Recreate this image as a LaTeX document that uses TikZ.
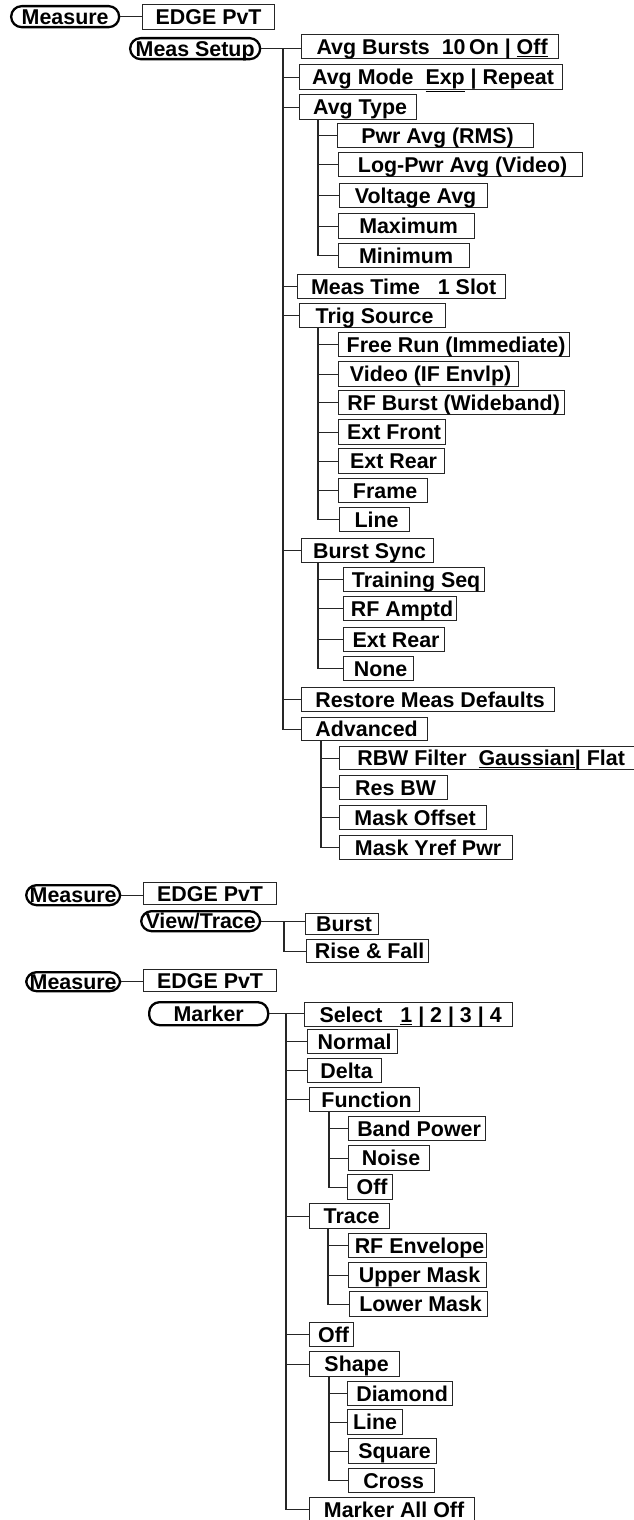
\documentclass[tikz,border=0pt]{standalone}
\usepackage{fontspec}
\setmainfont{Liberation Sans}
\begin{document}
\begin{tikzpicture}[x=1pt,y=-1pt,
  cell/.style args={#1/#2/#3/#4}{anchor=north west, at={(#1,#2)},
    minimum width={(#3)-(#1)}, minimum height={(#4)-(#2)}},
  mbox/.style={draw=black!85, line width=1.2pt, inner sep=0pt, rectangle,
    font=\fontsize{21.4}{24}\selectfont\bfseries, text height=15.6pt, text depth=0pt},
  mkey/.style={draw=black, line width=2.3pt, inner sep=0pt, rectangle, rounded corners=10.5pt,
    font=\fontsize{21.4}{24}\selectfont\bfseries, text height=15.6pt, text depth=0pt},
  conn/.style={draw=black!85, line width=1.2pt}]
\useasboundingbox[fill=white] (0,0) rectangle (633,1520);
% ---------- section 1 ----------
\node[mkey, cell=10/5/118/26] (m1) {Measure};
\node[mbox, cell=142/4/274/29] (e1) {EDGE PvT};
\node[mkey, cell=129/37/259/58] (ms) {Meas Setup};
\coordinate (T1) at (283,0);
\node[mbox, cell=301/34/558/58] (ab) {\hspace*{4pt}Avg Bursts\ \ 10\,On | \underline{Off}};
\node[mbox, cell=299/64/562/89] (am) {\hspace*{4pt}Avg Mode\ \ \underline{Exp} | Repeat};
\node[mbox, cell=299/94/416/119] (at) {\hspace*{4pt}Avg Type};
\coordinate (T2) at (318,0);
\node[mbox, cell=337/123/533/147] (pa) {\hspace*{4pt}Pwr Avg (RMS)};
\node[mbox, cell=338/152/582/176] (lp) {\hspace*{4pt}Log-Pwr Avg (Video)};
\node[mbox, cell=339/183/487/207] (va) {\hspace*{4pt}Voltage Avg};
\node[mbox, cell=338/213/474/238] (mx) {\hspace*{4pt}Maximum};
\node[mbox, cell=338/243/469/267] (mn) {\hspace*{4pt}Minimum};
\node[mbox, cell=297/274/505/298] (mt) {\hspace*{4pt}Meas Time\ \ \ 1 Slot};
\node[mbox, cell=299/303/445/327] (ts) {\hspace*{4pt}Trig Source};
\coordinate (T3) at (318,0);
\node[mbox, cell=338/332/569/356] (fr) {\hspace*{4pt}Free Run (Immediate)};
\node[mbox, cell=338/361/518/386] (vi) {\hspace*{4pt}Video (IF Envlp)};
\node[mbox, cell=338/390/564/414] (rb) {\hspace*{4pt}RF Burst (Wideband)};
\node[mbox, cell=338/419/445/444] (ef) {\hspace*{4pt}Ext Front};
\node[mbox, cell=338/448/444/473] (er) {\hspace*{4pt}Ext Rear};
\node[mbox, cell=338/478/427/502] (fm) {\hspace*{4pt}Frame};
\node[mbox, cell=339/507/409/531] (ln) {\hspace*{4pt}Line};
\node[mbox, cell=301/538/433/562] (bs) {\hspace*{4pt}Burst Sync};
\coordinate (T4) at (318,0);
\node[mbox, cell=343/567/484/591] (tq) {\hspace*{4pt}Training Seq};
\node[mbox, cell=343/596/456/620] (ra) {\hspace*{4pt}RF Amptd};
\node[mbox, cell=343/627/444/651] (xr) {\hspace*{4pt}Ext Rear};
\node[mbox, cell=343/656/413/680] (no) {\hspace*{4pt}None};
\node[mbox, cell=301/687/554/711] (rd) {\hspace*{4pt}Restore Meas Defaults};
\node[mbox, cell=301/717/427/740] (ad) {\hspace*{4pt}Advanced};
\coordinate (T5) at (321,0);
\node[mbox, cell=339/746/638/769] (rf) {\hspace*{4pt}RBW Filter\ \ \underline{Gaussian}| Flat};
\node[mbox, cell=339/775/447/799] (rw) {\hspace*{4pt}Res BW};
\node[mbox, cell=339/805/486/829] (mo) {\hspace*{4pt}Mask Offset};
\node[mbox, cell=339/835/512/859] (my) {\hspace*{4pt}Mask Yref Pwr};
\draw[conn] (m1.east) -- (m1.east -| e1.west);
\draw[conn] (ms.east) -- (ms.east -| ab.west);
\draw[conn] (ms.east -| T1) |- (ad.west);
\foreach \n in {am,at,mt,ts,bs,rd} \draw[conn] (\n.west -| T1) -- (\n.west);
\draw[conn] (at.south -| T2) |- (mn.west);
\foreach \n in {pa,lp,va,mx} \draw[conn] (\n.west -| T2) -- (\n.west);
\draw[conn] (ts.south -| T3) |- (ln.west);
\foreach \n in {fr,vi,rb,ef,er,fm} \draw[conn] (\n.west -| T3) -- (\n.west);
\draw[conn] (bs.south -| T4) |- (no.west);
\foreach \n in {tq,ra,xr} \draw[conn] (\n.west -| T4) -- (\n.west);
\draw[conn] (ad.south -| T5) |- (my.west);
\foreach \n in {rf,rw,mo} \draw[conn] (\n.west -| T5) -- (\n.west);
% ---------- section 2 ----------
\node[mkey, cell=25/884/119/904] (m2) {Measure};
\node[mbox, cell=143/882/276/904] (e2) {EDGE PvT};
\node[mkey, cell=140/910/259/930] (vt) {View/Trace};
\coordinate (T6) at (284,0);
\node[mbox, cell=305/913/378/934] (bu) {\hspace*{4pt}Burst};
\node[mbox, cell=306/939/428/962] (rf2) {\hspace*{4pt}Rise \& Fall};
\draw[conn] (m2.east) -- (m2.east -| e2.west);
\draw[conn] (vt.east) -- (vt.east -| bu.west);
\draw[conn] (vt.east -| T6) |- (rf2.west);
% ---------- section 3 ----------
\node[mkey, cell=25/971/119/990] (m3) {Measure};
\node[mbox, cell=143/969/276/991] (e3) {EDGE PvT};
\node[mkey, cell=148/1001/267/1024] (mk) {Marker};
\coordinate (T7) at (286,0);
\node[mbox, cell=304/1002/512/1026] (se) {\hspace*{4pt}Select\ \ \ \underline{1} | 2 | 3 | 4};
\node[mbox, cell=307/1029/397/1053] (nm) {\hspace*{4pt}Normal};
\node[mbox, cell=307/1058/381/1082] (de) {\hspace*{4pt}Delta};
\node[mbox, cell=309/1087/419/1111] (fn) {\hspace*{4pt}Function};
\coordinate (T8) at (329,0);
\node[mbox, cell=348/1116/485/1140] (bp) {\hspace*{4pt}Band Power};
\node[mbox, cell=348/1145/429/1170] (ns) {\hspace*{4pt}Noise};
\node[mbox, cell=347/1174/392/1199] (of) {\hspace*{4pt}Off};
\node[mbox, cell=309/1203/389/1228] (tr) {\hspace*{4pt}Trace};
\coordinate (T9) at (328,0);
\node[mbox, cell=348/1233/486/1257] (re) {\hspace*{4pt}RF Envelope};
\node[mbox, cell=348/1262/486/1287] (um) {\hspace*{4pt}Upper Mask};
\node[mbox, cell=349/1291/487/1316] (lm) {\hspace*{4pt}Lower Mask};
\node[mbox, cell=309/1322/353/1346] (o2) {\hspace*{4pt}Off};
\node[mbox, cell=309/1351/399/1376] (sh) {\hspace*{4pt}Shape};
\coordinate (T10) at (329,0);
\node[mbox, cell=347/1381/452/1405] (di) {\hspace*{4pt}Diamond};
\node[mbox, cell=347/1409/402/1434] (li) {Line};
\node[mbox, cell=348/1438/436/1463] (sq) {\hspace*{4pt}Square};
\node[mbox, cell=348/1468/434/1492] (cr) {\hspace*{4pt}Cross};
\node[mbox, cell=309/1497/474/1521] (ma) {\hspace*{4pt}Marker All Off};
\draw[conn] (m3.east) -- (m3.east -| e3.west);
\draw[conn] (mk.east) -- (mk.east -| se.west);
\draw[conn] (mk.east -| T7) |- (ma.west);
\foreach \n in {nm,de,fn,tr,o2,sh} \draw[conn] (\n.west -| T7) -- (\n.west);
\draw[conn] (fn.south -| T8) |- (of.west);
\foreach \n in {bp,ns} \draw[conn] (\n.west -| T8) -- (\n.west);
\draw[conn] (tr.south -| T9) |- (lm.west);
\foreach \n in {re,um} \draw[conn] (\n.west -| T9) -- (\n.west);
\draw[conn] (sh.south -| T10) |- (cr.west);
\foreach \n in {di,li,sq} \draw[conn] (\n.west -| T10) -- (\n.west);
\end{tikzpicture}
\end{document}
